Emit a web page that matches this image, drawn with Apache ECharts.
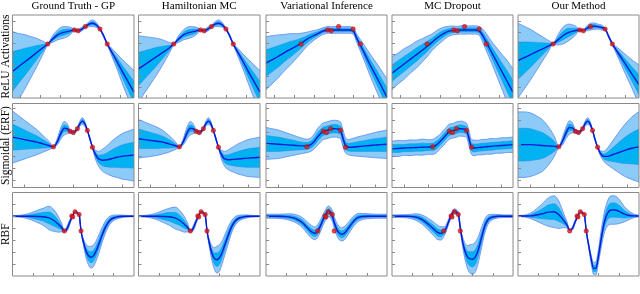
<!DOCTYPE html>
<html>
<head>
<meta charset="utf-8">
<script src="https://cdn.jsdelivr.net/npm/echarts@6/dist/echarts.min.js"></script>
<style>html,body{margin:0;padding:0;background:#fff;}#chart{width:640px;height:294px;}</style>
</head>
<body>
<div id="chart"></div>
<script>
// ---------- labels ----------
const colTitles = ['Ground Truth - GP', 'Hamiltonian MC', 'Variational Inference', 'MC Dropout', 'Our Method'];
const rowTitles = ['ReLU Activations', 'Sigmoidal (ERF)', 'RBF'];

// ---------- tick positions (panel units 0..100) ----------
const reluXTicks = [6.5, 23, 39.5, 56, 72.5, 89];
const erfXTicks = [10, 30, 50, 70, 90];
const rbfXTicks = [16.7, 33.3, 50, 66.7, 83.3];
const reluYTicks = [13.25, 26.5, 39.75, 53, 66.25, 79.5, 92.75];
const erfYTicks = [8.3, 22.6, 36.9, 51.2, 65.5, 79.8, 94.1];
const rbfYTicks = [14.3, 28.6, 42.9, 57.1, 71.4, 85.7];

// ---------- observed points ----------
const reluPts = [[29, 65], [51, 82], [54, 81], [60, 86], [72, 83], [78, 65]];
const erfPts = [[33.7, 48.4], [47.4, 67], [50, 65.5], [53.4, 70], [61.6, 68], [65.8, 48]];
const rbfPts = [[42.7, 54], [48.8, 72], [49.6, 70.8], [51.5, 76.8], [54.8, 73.6], [56.4, 54]];

// ---------- ReLU row ----------
const reluX = [0,5,10,15,20,25,29,33,37,42,47,51,54,57,60,63,66,69,72,75,78,82,86,90,95,100];
const reluGpMean = [32,37.7,43.4,49,54.8,60.5,65,71,76,79,80.5,82,81,83,86,89,90,88,83,75,65,54.5,44,33,20,7];
const reluGpSd = [24,20,16.5,12.5,8.5,4,0.5,2,3,3.5,2.5,0.5,0.8,1.2,0.8,1.5,2,1.5,0.5,0.8,0.5,2.5,4.5,7,10,13];
const reluHmcMean = [35,40,45,50,55,60,65,71,76,79,80.5,82,81,83,86,89,90,88,83,75,65,54.5,44,33,20,7];
const reluHmcSd = [20,17,14,11,7.5,3.5,0.5,2,3,3.5,2.5,0.5,0.8,1.2,0.8,1.5,2,1.5,0.5,0.8,0.5,2.5,4.5,7,10,13];
const reluViMean = [42,46,50,54.5,58.5,62.5,66,70,73.5,77,80.5,82,82,82,82,82,82,82,81,72,63.5,52,40,29,15,1];
const reluViSd = [16,14.5,13,11,9.5,7.5,6,4.5,3.5,2.5,2,2,2,2,2,2,2,2,2,2.5,3.5,5,6.5,8,9.5,11];
const reluMcMean = [30,35.5,41,46.5,52,57.5,62,67,72,77,80.5,81.5,81.5,82,82,82,82,82,81,75,67,56,45,34,20.5,7];
const reluMcSd = [10,9.3,9.2,8.4,8.1,7,6.2,5,4.6,4,3,2.6,2.4,2.5,2.6,2.4,2.5,2.5,2.6,4,5.2,6.4,8.2,10,12.5,14];
const reluOurMean = [45,48.5,52,55.5,59,62.5,65.5,70,75,79,81,82,81.5,84,86,86.5,86,85,83,74,65,56,47,38,27,16];
const reluOurSd = [22.5,19,15.5,11.5,7.5,3.5,0.5,3,5,5,3,0.5,0.5,1.5,2,2,1.5,1.5,0.5,0.8,0.5,2.5,4.5,6.5,9,12];

// ---------- ERF row ----------
const erfX = [0,5,10,15,20,25,30,33.7,37,40,42.5,45,47.4,50,53.4,55.5,57.5,59.5,61.6,63.7,65.8,68,71,74,78,82,86,90,95,100];
const erfGpMean = [60,58.5,57,55.5,54,52,50,48.4,55,65,70.5,70,67,65.5,70,76,79,76,68,58,48,40,34,32.5,33,34.5,36,37,38,38.5];
const erfGpSd = [15.5,13.5,11.5,9.5,7.5,5,2.5,0.4,2,3.5,4,3,1,1,1,1.5,2,1.5,0.5,0.8,0.4,2.5,4.5,6.5,8.5,10.5,12,13.5,14.5,15.5];
const erfHmcMean = [58,57,56,55,54,52,50,48.4,55,65,70.5,70,67,65.5,70,76,79,76,68,58,48,40,34,33,33.5,34,34.5,35,35.5,36];
const erfHmcSd = [11.5,10.5,9.5,8.5,7,5,2.5,0.4,2,3.5,4,3,1,1,1,1.5,2,1.5,0.5,0.8,0.4,2.5,4.5,6,7.5,9,10,11,11.5,12];
const erfViMean = [52.5,52,51.5,51,50.5,50,49.5,49.5,51,55,60,64,67,68,69.5,70,70,69.5,68,58,50,48,48,48.5,49,49.5,50,50.5,51,51.5];
const erfViSd = [9.5,9,8.5,7.5,6.5,5.5,4.5,4,4,4.5,5,5,5,5,5,5,5,5,5,5,4.5,4.5,5,5.5,6,6.5,7,7.5,8,8.5];
const erfMcMean = [46,46.5,47,47.3,47.6,48,48.2,48.4,51,55,59,63,66.5,67.5,69,70,70,69.5,68,58,48,47,47.5,48,48.5,49,49.5,50,50.5,51];
const erfMcSd = [4.5,4.8,4.3,4.7,4.4,4.8,4.3,4.5,4.7,4.3,4.6,4.4,4.5,4.3,4.6,4.4,4.5,4.3,4.2,4.5,4.4,4.7,4.3,4.6,4.4,4.7,4.3,4.6,4.4,4.6];
const erfOurMean = [51,51,51,50.5,50,49.5,49,48.4,56,66,71.5,71,67,65.5,70,76,79,76,68,57,48,41,37,37,39,41,43,45,47,48.5];
const erfOurSd = [19.5,19.5,19,17.5,15.5,11.5,6,0.4,2.5,3.5,4,3,1,1,1,1.5,2,1.5,0.5,0.8,0.4,1.5,3,5,8,11,14,16.5,19,21];

// ---------- RBF row ----------
const rbfX = [0,5,10,15,20,25,30,34,38,40.5,42.7,45,47,49.2,51.5,54.8,56.4,58.5,60.5,62.5,64.5,66.5,68.5,71,74,77,80,84,88,92,96,100];
const rbfGpMean = [71.6,71.6,71.6,71.5,71.3,71,69.5,66.5,61.5,58,54,57,64,71.4,76.8,73.6,54,40,30,24.5,22.5,24,29,38,50,60,66.5,70,71.2,71.6,71.6,71.6];
const rbfGpSd = [0.3,0.5,1,2,3.5,5,7,6.5,4.5,2.5,0.4,1.5,1.5,0.5,0.4,0.4,0.4,2,4,5.5,6.5,6.5,6,5.5,4.5,3.5,2.5,1.5,1,0.6,0.4,0.3];
const rbfHmcMean = [71.6,71.6,71.6,71.5,71.3,71,69.5,66.5,61.5,58,54,57,64,71.4,76.8,73.6,54,38,27,21,19.5,21.5,27,37,49.5,60,66.5,70,71.2,71.6,71.6,71.6];
const rbfHmcSd = [0.3,0.5,1,2,3.5,5,6.5,6,4.5,2.5,0.4,1.5,1.5,0.5,0.4,0.4,0.4,2.5,4.5,6.5,8,8,7,6,5,3.5,2.5,1.5,1,0.6,0.4,0.3];
const rbfViMean = [71.6,71.6,71.5,71.2,70.5,68.5,64,58,52.5,51,54,60,67,73,77.5,72,64,56,51.5,50,51,54,58,63,68,70.5,71.3,71.6,71.6,71.6,71.6,71.6];
const rbfViSd = [1.2,1.2,1.3,1.5,2,2.5,3,3.5,3.8,3.8,3.8,3.5,3.3,3.2,3.2,3.3,3.5,3.8,4,4,4,3.8,3.5,3.2,2.8,2.3,1.8,1.5,1.3,1.2,1.2,1.2];
const rbfMcMean = [71.6,71.6,71.6,71.4,70.5,67.5,62,57,52,51,53,58,66,73,77.5,74,58,40,29,22.5,20.5,20,22,30,46,61,68.5,71,71.6,71.6,71.6,71.6];
const rbfMcSd = [0.8,0.8,0.9,1.2,2,2.8,3.5,4,4.3,4,3,2,1.5,1.5,1.5,1.5,1.5,3,5,7,8.5,9,9,8,6,4,2.5,1.5,1,0.8,0.8,0.8];
const rbfOurMean = [71.8,71.8,72,73,74.5,76.5,77,73,66,61,55,57,64,71.4,76.8,73.6,54,36,20,9,9.5,24,42,62,75,79,79,77,74,72.5,72,71.8];
const rbfOurSd = [0.3,0.5,1.5,3.5,6,8.5,9.5,8,4,2,0.4,1,1,0.5,0.4,0.4,0.4,1.5,2.5,3.5,4,4,5,6,7.5,8.5,8.5,7,4.5,2.5,1,0.5];

// ---------- assemble ----------
const rowsData = [
  { x: reluX, pts: reluPts, xt: reluXTicks, yt: reluYTicks,
    panels: [[reluGpMean, reluGpSd], [reluHmcMean, reluHmcSd], [reluViMean, reluViSd], [reluMcMean, reluMcSd], [reluOurMean, reluOurSd]] },
  { x: erfX, pts: erfPts, xt: erfXTicks, yt: erfYTicks,
    panels: [[erfGpMean, erfGpSd], [erfHmcMean, erfHmcSd], [erfViMean, erfViSd], [erfMcMean, erfMcSd], [erfOurMean, erfOurSd]] },
  { x: rbfX, pts: rbfPts, xt: rbfXTicks, yt: rbfYTicks,
    panels: [[rbfGpMean, rbfGpSd], [rbfHmcMean, rbfHmcSd], [rbfViMean, rbfViSd], [rbfMcMean, rbfMcSd], [rbfOurMean, rbfOurSd]] }
];

const colLeft = [12.5, 138.5, 266, 392, 518];
const colWidth = [121.5, 121.5, 121, 121, 121];
const rowTop = [15, 103.5, 192.5];
const rowHeight = [83, 84, 83.5];

const LIGHT = '#8ccaf7', EDGE = '#5b8cf0', INNER = '#00b2f2', INNER_EDGE = '#2b86e6', MEAN = '#0b18d8';
const FONT = '"Liberation Serif", "Times New Roman", serif';

// monotone cubic segments (pixel points, x increasing)
function segments(p) {
  const n = p.length, m = new Array(n), h = [], s = [];
  for (let i = 0; i < n - 1; i++) { h[i] = p[i + 1][0] - p[i][0]; s[i] = (p[i + 1][1] - p[i][1]) / h[i]; }
  m[0] = s[0]; m[n - 1] = s[n - 2];
  for (let i = 1; i < n - 1; i++) {
    const s0 = s[i - 1], s1 = s[i];
    if (s0 * s1 <= 0) { m[i] = 0; continue; }
    const pp = (s0 * h[i] + s1 * h[i - 1]) / (h[i - 1] + h[i]);
    m[i] = (Math.sign(s0) + Math.sign(s1)) * Math.min(Math.abs(s0), Math.abs(s1), 0.5 * Math.abs(pp));
  }
  const out = [];
  for (let i = 0; i < n - 1; i++) {
    const d = h[i] / 3;
    out.push({ a: p[i], c1: [p[i][0] + d, p[i][1] + m[i] * d], c2: [p[i + 1][0] - d, p[i + 1][1] - m[i + 1] * d], b: p[i + 1] });
  }
  return out;
}
const f = v => v.toFixed(2);
function openPath(p) {
  const sg = segments(p);
  let d = 'M' + f(p[0][0]) + ' ' + f(p[0][1]);
  sg.forEach(q => { d += 'C' + f(q.c1[0]) + ' ' + f(q.c1[1]) + ' ' + f(q.c2[0]) + ' ' + f(q.c2[1]) + ' ' + f(q.b[0]) + ' ' + f(q.b[1]); });
  return d;
}
function bandPath(up, dn) {
  let d = openPath(up);
  const sg = segments(dn);
  d += 'L' + f(dn[dn.length - 1][0]) + ' ' + f(dn[dn.length - 1][1]);
  for (let i = sg.length - 1; i >= 0; i--) {
    const q = sg[i];
    d += 'C' + f(q.c2[0]) + ' ' + f(q.c2[1]) + ' ' + f(q.c1[0]) + ' ' + f(q.c1[1]) + ' ' + f(q.a[0]) + ' ' + f(q.a[1]);
  }
  return d + 'Z';
}

const grids = [], xAxes = [], yAxes = [], series = [], graphics = [];
let idx = 0;
rowsData.forEach((row, r) => {
  row.panels.forEach((p, c) => {
    const mean = p[0], sd = p[1], xs = row.x;
    grids.push({ left: colLeft[c], top: rowTop[r], width: colWidth[c], height: rowHeight[r], show: false });
    const tickStyle = { show: true, inside: true, length: 3, lineStyle: { color: '#888', width: 1 } };
    xAxes.push({ gridIndex: idx, type: 'value', min: 0, max: 100, z: 5,
      axisLine: { show: false }, splitLine: { show: false }, axisLabel: { show: false },
      axisTick: Object.assign({ customValues: row.xt }, tickStyle) });
    yAxes.push({ gridIndex: idx, type: 'value', min: 0, max: 100, z: 5,
      axisLine: { show: false }, splitLine: { show: false }, axisLabel: { show: false },
      axisTick: Object.assign({ customValues: row.yt }, tickStyle) });
    series.push({
      type: 'custom', xAxisIndex: idx, yAxisIndex: idx, clip: true, silent: true, animation: false,
      data: xs.map((xv, k) => [xv, mean[k], sd[k]]),
      renderItem: function (params, api) {
        if (params.dataIndex !== 0) return null;
        const pt = (k, v) => api.coord([xs[k], v]);
        const up2 = xs.map((_, k) => pt(k, mean[k] + 2 * sd[k]));
        const dn2 = xs.map((_, k) => pt(k, mean[k] - 2 * sd[k]));
        const up1 = xs.map((_, k) => pt(k, mean[k] + sd[k]));
        const dn1 = xs.map((_, k) => pt(k, mean[k] - sd[k]));
        const mn = xs.map((_, k) => pt(k, mean[k]));
        const path = (d, style) => ({ type: 'path', shape: { pathData: d }, style: style });
        return { type: 'group', children: [
          path(bandPath(up2, dn2), { fill: LIGHT, stroke: null }),
          path(openPath(up2), { fill: null, stroke: EDGE, lineWidth: 0.8 }),
          path(openPath(dn2), { fill: null, stroke: EDGE, lineWidth: 0.8 }),
          path(bandPath(up1, dn1), { fill: INNER, stroke: null }),
          path(openPath(up1), { fill: null, stroke: INNER_EDGE, lineWidth: 0.5 }),
          path(openPath(dn1), { fill: null, stroke: INNER_EDGE, lineWidth: 0.5 }),
          path(openPath(mn), { fill: null, stroke: MEAN, lineWidth: 1.4 })
        ] };
      }
    });
    series.push({ type: 'scatter', xAxisIndex: idx, yAxisIndex: idx, silent: true, animation: false,
      data: row.pts, symbolSize: 4.5, z: 3,
      itemStyle: { color: '#e3161b', borderColor: '#8a0a0a', borderWidth: 0.5 } });
    graphics.push({ type: 'rect', z: 100, silent: true,
      shape: { x: colLeft[c], y: rowTop[r], width: colWidth[c], height: rowHeight[r] },
      style: { fill: null, stroke: '#8a8a8a', lineWidth: 1 } });
    idx++;
  });
});

colTitles.forEach((t, c) => {
  graphics.push({ type: 'text', x: colLeft[c] + colWidth[c] / 2, y: 6.5,
    style: { text: t, font: '11px ' + FONT, fill: '#000', textAlign: 'center', textVerticalAlign: 'middle' } });
});
rowTitles.forEach((t, r) => {
  graphics.push({ type: 'text', x: 5.5, y: rowTop[r] + rowHeight[r] / 2, rotation: Math.PI / 2,
    style: { text: t, font: '11.5px ' + FONT, fill: '#000', textAlign: 'center', textVerticalAlign: 'middle' } });
});

const chart = echarts.init(document.getElementById('chart'), null, { renderer: 'canvas' });
chart.setOption({
  animation: false,
  backgroundColor: '#fff',
  grid: grids,
  xAxis: xAxes,
  yAxis: yAxes,
  series: series,
  graphic: graphics
});
</script>
</body>
</html>
